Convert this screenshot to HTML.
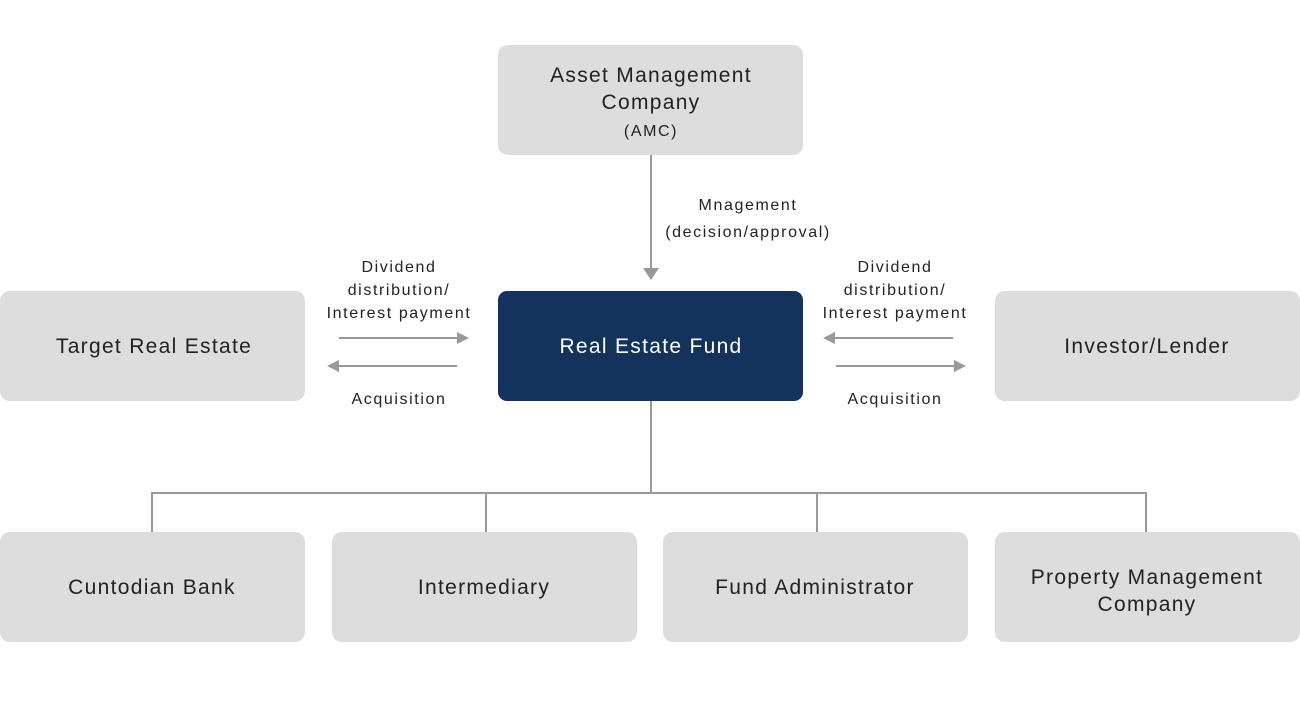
<!DOCTYPE html>
<html>
<head>
<meta charset="utf-8">
<style>
  html, body { margin: 0; padding: 0; background: #ffffff; }
  body { width: 1300px; height: 701px; overflow: hidden; }
  svg { display: block; }
  .box { fill: #dddddd; }
  .t { font-family: "Liberation Sans", sans-serif; font-size: 21px; fill: #222222; letter-spacing: 1.3px; }
  .s { font-family: "Liberation Sans", sans-serif; font-size: 16px; fill: #222222; letter-spacing: 1.6px; }
  .ln { stroke: #999999; stroke-width: 2; fill: none; }
  .ah { fill: #999999; }
</style>
</head>
<body>
<svg width="1300" height="701" viewBox="0 0 1300 701" xmlns="http://www.w3.org/2000/svg">
  <!-- AMC -->
  <rect class="box" x="498" y="45" width="305" height="110" rx="10"/>
  <text class="t" x="651" y="82" text-anchor="middle">Asset Management</text>
  <text class="t" x="651" y="109" text-anchor="middle">Company</text>
  <text class="s" x="651" y="136" text-anchor="middle">(AMC)</text>

  <!-- Vertical arrow AMC -> Fund -->
  <line class="ln" x1="651" y1="155" x2="651" y2="269"/>
  <polygon class="ah" points="643,268 659,268 651,280"/>
  <text class="s" x="748" y="210" text-anchor="middle">Mnagement</text>
  <text class="s" x="748" y="237" text-anchor="middle">(decision/approval)</text>

  <!-- Real Estate Fund -->
  <rect x="498" y="291" width="305" height="110" rx="9" fill="#13335c"/>
  <text class="t" x="651" y="353" text-anchor="middle" fill="#ffffff" style="fill:#ffffff">Real Estate Fund</text>

  <!-- Target Real Estate -->
  <rect class="box" x="0" y="291" width="305" height="110" rx="10"/>
  <text class="t" x="154" y="353" text-anchor="middle">Target Real Estate</text>

  <!-- Investor/Lender -->
  <rect class="box" x="995" y="291" width="305" height="110" rx="10"/>
  <text class="t" x="1147" y="353" text-anchor="middle">Investor/Lender</text>

  <!-- Left arrows -->
  <text class="s" x="399" y="272" text-anchor="middle">Dividend</text>
  <text class="s" x="399" y="295" text-anchor="middle">distribution/</text>
  <text class="s" x="399" y="318" text-anchor="middle">Interest payment</text>
  <line class="ln" x1="339" y1="338" x2="458" y2="338"/>
  <polygon class="ah" points="457,332 457,344 469,338"/>
  <line class="ln" x1="338" y1="366" x2="457" y2="366"/>
  <polygon class="ah" points="339,360 339,372 327,366"/>
  <text class="s" x="399" y="404" text-anchor="middle">Acquisition</text>

  <!-- Right arrows -->
  <text class="s" x="895" y="272" text-anchor="middle">Dividend</text>
  <text class="s" x="895" y="295" text-anchor="middle">distribution/</text>
  <text class="s" x="895" y="318" text-anchor="middle">Interest payment</text>
  <line class="ln" x1="834" y1="338" x2="953" y2="338"/>
  <polygon class="ah" points="835,332 835,344 823,338"/>
  <line class="ln" x1="836" y1="366" x2="955" y2="366"/>
  <polygon class="ah" points="954,360 954,372 966,366"/>
  <text class="s" x="895" y="404" text-anchor="middle">Acquisition</text>

  <!-- Tree connectors -->
  <line class="ln" x1="651" y1="401" x2="651" y2="493"/>
  <line class="ln" x1="151" y1="493" x2="1147" y2="493"/>
  <line class="ln" x1="152" y1="492" x2="152" y2="532"/>
  <line class="ln" x1="486" y1="492" x2="486" y2="532"/>
  <line class="ln" x1="817" y1="492" x2="817" y2="532"/>
  <line class="ln" x1="1146" y1="492" x2="1146" y2="532"/>

  <!-- Bottom boxes -->
  <rect class="box" x="0" y="532" width="305" height="110" rx="10"/>
  <text class="t" x="152" y="594" text-anchor="middle">Cuntodian Bank</text>

  <rect class="box" x="332" y="532" width="305" height="110" rx="10"/>
  <text class="t" x="484" y="594" text-anchor="middle">Intermediary</text>

  <rect class="box" x="663" y="532" width="305" height="110" rx="10"/>
  <text class="t" x="815" y="594" text-anchor="middle">Fund Administrator</text>

  <rect class="box" x="995" y="532" width="305" height="110" rx="10"/>
  <text class="t" x="1147" y="584" text-anchor="middle">Property Management</text>
  <text class="t" x="1147" y="611" text-anchor="middle">Company</text>
</svg>
</body>
</html>
